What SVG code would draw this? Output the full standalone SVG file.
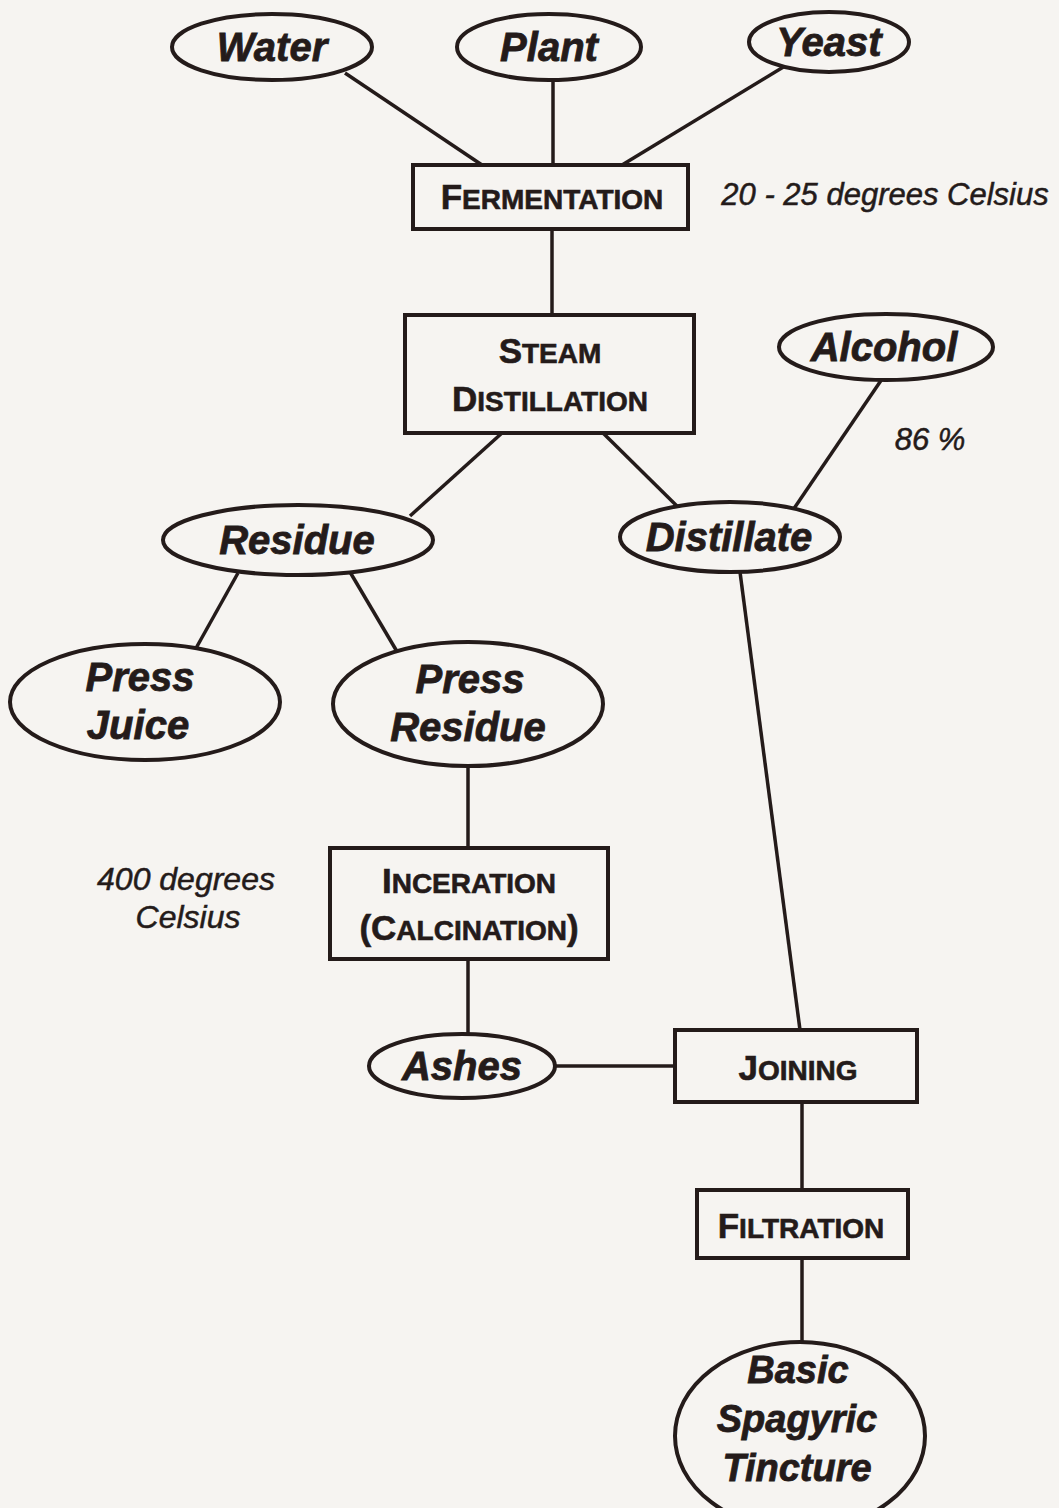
<svg xmlns="http://www.w3.org/2000/svg" width="1059" height="1508" viewBox="0 0 1059 1508">
  <style>
    .shape { fill: #f6f4f1; stroke: #241b1a; stroke-width: 4; }
    .link { stroke: #241b1a; stroke-width: 3.5; fill: none; }
    .lbl { font-family: "Liberation Sans", Arial, sans-serif; font-weight: bold; font-style: italic; font-size: 40px; fill: #241b1a; stroke: #241b1a; stroke-width: 0.8; text-anchor: middle; }
    .step { font-family: "Liberation Sans", Arial, sans-serif; font-weight: bold; font-size: 28px; fill: #241b1a; stroke: #241b1a; stroke-width: 0.6; text-anchor: middle; }
    .cap { font-size: 35px; }
    .note { font-family: "Liberation Sans", Arial, sans-serif; font-style: italic; font-size: 31px; fill: #241b1a; stroke: #241b1a; stroke-width: 0.5; text-anchor: middle; }
  </style>

  <rect width="1059" height="1508" fill="#f6f4f1"/>

  <!-- connectors are drawn first so node fills cover their ends -->
  <g id="connectors">
    <line class="link" x1="345" y1="73" x2="482" y2="165"/>
    <line class="link" x1="553" y1="80" x2="553" y2="165"/>
    <line class="link" x1="785" y1="66" x2="622" y2="165"/>
    <line class="link" x1="552" y1="229" x2="552" y2="315"/>
    <line class="link" x1="502" y1="433" x2="410" y2="516"/>
    <line class="link" x1="603" y1="433" x2="682" y2="511"/>
    <line class="link" x1="882" y1="379" x2="793" y2="510"/>
    <line class="link" x1="238" y1="573" x2="195" y2="650"/>
    <line class="link" x1="350" y1="572" x2="402" y2="660"/>
    <line class="link" x1="468" y1="766" x2="468" y2="848"/>
    <line class="link" x1="468" y1="959" x2="468" y2="1035"/>
    <line class="link" x1="553" y1="1066" x2="675" y2="1066"/>
    <line class="link" x1="740" y1="572" x2="800" y2="1030"/>
    <line class="link" x1="802" y1="1102" x2="802" y2="1190"/>
    <line class="link" x1="802" y1="1258" x2="802" y2="1342"/>
  </g>

  <g id="water">
    <ellipse class="shape" cx="272" cy="47" rx="100" ry="33"/>
    <text class="lbl" x="272" y="61">Water</text>
  </g>
  <g id="plant">
    <ellipse class="shape" cx="549" cy="47" rx="92" ry="33"/>
    <text class="lbl" x="549" y="61">Plant</text>
  </g>
  <g id="yeast">
    <ellipse class="shape" cx="829" cy="42" rx="80" ry="30"/>
    <text class="lbl" x="829" y="56">Yeast</text>
  </g>

  <g id="fermentation">
    <rect class="shape" x="413" y="165" width="275" height="64"/>
    <text class="step" x="552" y="209"><tspan class="cap">F</tspan>ERMENTATION</text>
  </g>
  <text class="note" x="885" y="205">20 - 25 degrees Celsius</text>

  <g id="steam-distillation">
    <rect class="shape" x="405" y="315" width="289" height="118"/>
    <text class="step" x="550" y="363"><tspan class="cap">S</tspan>TEAM</text>
    <text class="step" x="550" y="411"><tspan class="cap">D</tspan>ISTILLATION</text>
  </g>

  <g id="alcohol">
    <ellipse class="shape" cx="886" cy="347" rx="107" ry="33"/>
    <text class="lbl" x="884" y="361">Alcohol</text>
  </g>
  <text class="note" x="930" y="450">86 %</text>

  <g id="residue">
    <ellipse class="shape" cx="298" cy="540" rx="135" ry="35"/>
    <text class="lbl" x="297" y="554">Residue</text>
  </g>
  <g id="distillate">
    <ellipse class="shape" cx="730" cy="537" rx="110" ry="35"/>
    <text class="lbl" x="729" y="551">Distillate</text>
  </g>

  <g id="press-juice">
    <ellipse class="shape" cx="145" cy="702" rx="135" ry="58"/>
    <text class="lbl" x="140" y="691">Press</text>
    <text class="lbl" x="138" y="739">Juice</text>
  </g>
  <g id="press-residue">
    <ellipse class="shape" cx="468" cy="704" rx="135" ry="62"/>
    <text class="lbl" x="470" y="693">Press</text>
    <text class="lbl" x="468" y="741">Residue</text>
  </g>

  <g id="inceration">
    <rect class="shape" x="330" y="848" width="278" height="111"/>
    <text class="step" x="469" y="893"><tspan class="cap">I</tspan>NCERATION</text>
    <text class="step" x="469" y="940"><tspan class="cap">(C</tspan>ALCINATION<tspan class="cap">)</tspan></text>
  </g>
  <text class="note" x="186" y="890" style="font-size:32px">400 degrees</text>
  <text class="note" x="188" y="928" style="font-size:32px">Celsius</text>

  <g id="ashes">
    <ellipse class="shape" cx="462" cy="1066" rx="93" ry="32"/>
    <text class="lbl" x="462" y="1080">Ashes</text>
  </g>

  <g id="joining">
    <rect class="shape" x="675" y="1030" width="242" height="72"/>
    <text class="step" x="798" y="1080"><tspan class="cap">J</tspan>OINING</text>
  </g>

  <g id="filtration">
    <rect class="shape" x="697" y="1190" width="211" height="68"/>
    <text class="step" x="801" y="1238"><tspan class="cap">F</tspan>ILTRATION</text>
  </g>

  <g id="tincture">
    <ellipse class="shape" cx="800" cy="1436" rx="125" ry="94"/>
    <text class="lbl" x="798" y="1383" style="font-size:38px">Basic</text>
    <text class="lbl" x="797" y="1432" style="font-size:38px">Spagyric</text>
    <text class="lbl" x="797" y="1481" style="font-size:38px">Tincture</text>
  </g>
</svg>
